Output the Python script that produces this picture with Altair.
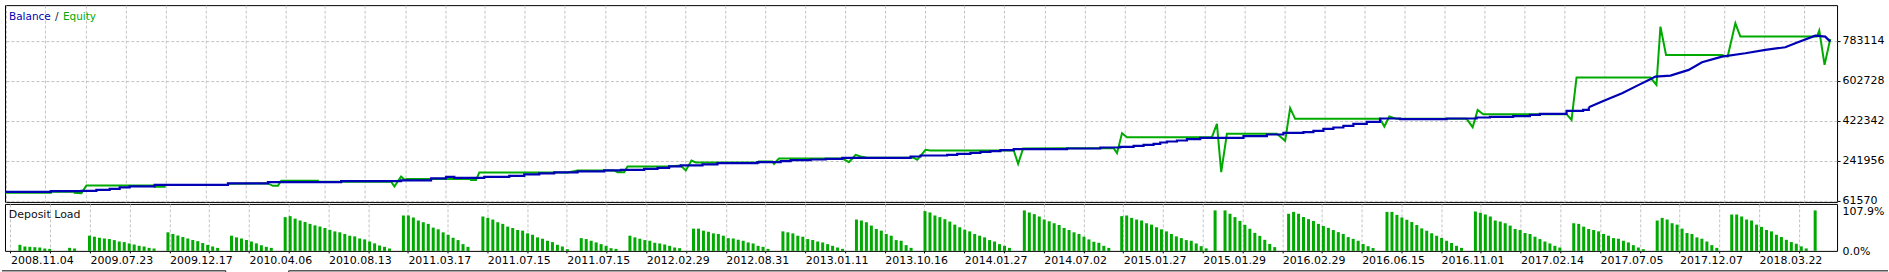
import json
import altair as alt
import pandas as pd

FONT = "DejaVu Sans"
BLUE = "#0000b4"
GREEN = "#00aa00"
GRID = "#c3c3c3"

# ---------------- data ----------------
x_labels = ["2008.11.04", "2009.07.23", "2009.12.17", "2010.04.06", "2010.08.13",
            "2011.03.17", "2011.07.15", "2011.07.15", "2012.02.29", "2012.08.31",
            "2013.01.11", "2013.10.16", "2014.01.27", "2014.07.02", "2015.01.27",
            "2015.01.29", "2016.02.29", "2016.06.15", "2016.11.01", "2017.02.14",
            "2017.07.05", "2017.12.07", "2018.03.22"]
y_ticks = [61570, 241956, 422342, 602728, 783114]
load_ticks = [0.0, 107.9]

# (trade index, balance) - stepwise part
balance_steps = [
    (0, 100000), (9.06, 103660), (15.2, 105163), (18.2, 109672), (20.86, 114182),
    (22.86, 120195), (24.86, 124704), (29.86, 132220), (44.54, 138233), (52.54, 144246),
    (67.2, 148756), (79.2, 151760), (85.2, 160781), (88.2, 168297), (89.86, 163788),
    (95.86, 168297), (100.86, 172807), (103.86, 178820), (106.86, 183329), (109.86, 187839),
    (114.54, 192348), (119.86, 196858), (123.2, 199864), (127.86, 204374), (130.54, 208884),
    (132.86, 214896), (135.2, 219406), (139.54, 223916), (142.54, 229928), (150.54, 234438),
    (155.2, 238948), (157.2, 243457), (161.2, 246464), (164.2, 249470), (167.54, 253980),
    (181.2, 259992), (183.2, 264502), (188.54, 267508), (190.54, 272018), (193.2, 276528),
    (195.2, 281037), (197.2, 284044), (199.2, 288553), (201.86, 293063), (212.54, 296069),
    (219.2, 300579), (223.2, 303585), (225.86, 308095), (227.86, 312604), (229.86, 317114),
    (231.2, 323127), (232.54, 327636), (234.54, 332146), (236.54, 338159), (239.2, 344000),
    (247.86, 351688), (252.54, 359204), (255.86, 366720), (259.86, 369726), (261.86, 375739),
    (263.86, 384758), (265.86, 390771), (267.86, 398287), (269.86, 407306), (272.54, 416325),
    (275.2, 431357), (279.2, 428351), (288.54, 431357), (294.54, 435867), (297.2, 438873),
    (301.86, 441880), (305.2, 447892), (307.2, 452402), (312.54, 465931), (315.86, 470440),
    (317, 482466),
]
# (trade index, balance) - final smooth part
balance_tail = [
    (317, 482466), (319.66, 508020), (323.66, 545600), (327, 583180), (329, 605728),
    (330.34, 620760), (333.34, 625270), (337, 650824), (339.66, 685398), (343.66, 710952),
    (348.34, 725984), (352.34, 741016), (356.34, 753042), (358.34, 771080), (362.34, 805654),
    (364.34, 801144), (365.34, 778596),
]

# (trade index, equity)
equity_points = [
    (0, 96144), (9.06, 96144), (9.06, 100653), (13.86, 100653), (13.86, 96144),
    (15.2, 94640), (16.2, 129214), (29.86, 129214), (29.86, 123201), (31.86, 123201),
    (31.86, 130717), (44.54, 130717), (44.54, 136730), (52.54, 138233), (53.54, 127711),
    (54.54, 127711), (55.2, 150259), (62.54, 150259), (62.54, 145749), (77.2, 145749),
    (77.86, 124704), (79.2, 169800), (79.86, 154768), (80.4, 157775), (93.2, 157775),
    (93.2, 153265), (94.2, 153265), (94.86, 187839), (112.54, 187839), (114.54, 196858),
    (121.86, 196858), (122.54, 189342), (123.86, 189342), (124.54, 214896), (132.54, 214896),
    (135.2, 219406), (136.2, 196858), (137.34, 241954), (138.2, 232935), (150.86, 232935),
    (150.86, 237444), (153.54, 237444), (153.86, 226922), (154.86, 250973), (167.54, 250973),
    (168.86, 234438), (170.2, 267508), (171.2, 259992), (172.54, 253980), (181.86, 253980),
    (182.54, 244960), (184.2, 290056), (185.2, 287050), (201.86, 287050), (202.74, 226922),
    (203.74, 296069), (212.54, 297572), (221.86, 297572), (222.54, 275024), (223.54, 365216),
    (224.54, 347178), (241.54, 347178), (242.54, 407306), (243.4, 189342), (244.54, 362210),
    (254.54, 362210), (256.2, 330643), (257.2, 477956), (258.2, 429854), (275.2, 429854),
    (276.06, 395280), (277.06, 440376), (278.54, 429854), (292.54, 429854), (293.74, 392274),
    (294.74, 470440), (295.86, 450899), (312.54, 450899), (313.54, 425344), (314.54, 616251),
    (329.34, 616251), (330.54, 583180), (331.34, 846240), (332.46, 718468), (343.66, 718468),
    (344.8, 710952), (346.34, 861272), (347.34, 801144), (362.66, 801144), (363.14, 828202),
    (364.2, 673372), (365.34, 790622),
]

# deposit load bars: first trade index of each run and the loads (%) of consecutive trades
bar_group_start = [1.9, 11.9, 15.9, 31.7, 44.5, 55.3, 79.1, 95.1, 114.9, 124.7, 137.5,
                   155.5, 170.3, 184.1, 204.1, 223.7, 242.5, 244.5, 257.3, 277.1, 294.9,
                   314.7, 331.5, 346.5, 363.3]
bar_group_loads = [
    [16.2, 11.7, 10.8, 9.9, 9, 6.3, 5.4],
    [8.1, 6.3],
    [40.5, 37.8, 35, 33, 31.5, 28.8, 25, 23.4, 19.8, 17, 13.5, 11.7, 8, 6.3],
    [49.5, 45, 41, 37, 33, 29, 26, 21, 16, 11.7, 8],
    [40.5, 36, 33, 29, 25, 20, 15, 10.8, 8],
    [90, 92.6, 86, 81, 77, 72, 68, 65, 61, 56, 52, 49.5, 45, 40.5, 38.7, 33, 30.6, 25, 20, 14.4, 10.8, 6.3],
    [94.4, 94.4, 89, 81, 76.4, 72, 62, 57.5, 49.4, 43, 35, 28.8, 18, 10.8],
    [91.7, 88, 83.6, 76.4, 72, 64.7, 61, 55.7, 54, 46.7, 43, 36, 32.4, 27, 23.4, 16.2, 11.7, 4.5],
    [34, 31.5, 27, 22.5, 18, 13.5, 7.2, 5.4],
    [40.5, 36, 32.4, 28.8, 27, 21.6, 19.8, 17, 13.5, 9, 7.2],
    [59.3, 59.3, 54, 51, 46.7, 45, 40.5, 34, 33, 29.7, 27, 22.5, 19.8, 13.5, 10.8, 5.4],
    [52, 49.5, 46.7, 40.5, 37.8, 31.5, 29, 25, 22.5, 18, 13.5, 9, 5.4],
    [83.6, 81, 76.4, 67.4, 58.4, 54, 45, 40.5, 28.8, 27, 15.3, 8.1],
    [106, 102.5, 94.4, 90, 84.5, 78.2, 70, 63, 56.6, 52, 45, 40.5, 36, 28.8, 25, 18, 13.5, 8],
    [107.9, 102.5, 98, 91.7, 83.6, 79, 73.7, 69, 61, 55.7, 49.5, 45, 37.8, 30.6, 24.3, 21.6, 13.5, 8],
    [92.6, 94.4, 88, 83.6, 81, 73.7, 70, 63, 57.5, 52, 45, 38.7, 34, 28.8, 27, 19.8, 12.5, 6.7],
    [107.9],
    [107.9, 99, 90, 80, 69.5, 59, 48, 40, 29.5, 18.5, 10],
    [99, 104, 99, 90.4, 84.6, 79.8, 72, 66.2, 61.4, 55.5, 50, 45.2, 36.8, 32, 27, 18.4, 12.5, 7.6],
    [104, 104, 96, 89, 83, 77, 69, 60, 53.7, 47, 40.3, 34.5, 27, 21, 13.5, 8],
    [105, 101.6, 97, 91.7, 81, 78.2, 73.7, 67.4, 58.4, 55.7, 47.6, 45, 37.8, 31.5, 25, 19.8, 13.5, 9],
    [73.7, 72, 64.7, 58.4, 55.7, 52, 45, 40.5, 34, 32.4, 27, 22.5, 15.3, 9, 4.5],
    [81, 88, 83.6, 73.7, 70, 59.3, 47.6, 45, 36, 32.4, 25, 15.3, 8],
    [97, 97, 91.7, 83.6, 81, 70, 64, 55.7, 52, 43, 37, 29.5, 23.5, 19, 12, 6.5],
    [107.9],
]

# ---------------- tables ----------------
def table(points):
    df = pd.DataFrame(points, columns=["u", "v"])
    df["i"] = range(len(df))
    return df


bal_a = table(balance_steps)
bal_b = table(balance_tail)
eq = table(equity_points)
rows = []
for s, loads in zip(bar_group_start, bar_group_loads):
    for k, h in enumerate(loads):
        rows.append({"u": round(s + k, 2), "load": h})
bars = pd.DataFrame(rows)

# ---------------- layout ----------------
W = 1834
TOP_H = 197
BOT_H = 47
X_DOMAIN = [-0.1, 366.7]
grid_vals = list(range(0, 361, 8))

LBL = dict(labelFont=FONT, labelFontSize=11, labelColor="black")
GRD = dict(gridColor=GRID, gridDash=[3, 2], gridWidth=1, tickColor="black")

xscale = alt.Scale(domain=X_DOMAIN, nice=False, zero=False)
yscale = alt.Scale(domain=[54806, 943207], nice=False, zero=False)
lscale = alt.Scale(domain=[0, 125.2], nice=False, zero=False)

x_top_axis = alt.Axis(values=grid_vals, labels=False, ticks=False, domain=False,
                      grid=True, title=None, **GRD)
y_top_axis = alt.Axis(orient="right", values=y_ticks, format="d", grid=True,
                      ticks=True, tickSize=3, domain=False, title=None,
                      labelPadding=2, labelOverlap=False, **LBL, **GRD)

label_expr = ("datum.value % 16 == 0 ? " + json.dumps(x_labels)
              + "[datum.value / 16] : ''")
x_bot_axis = alt.Axis(values=grid_vals, labelExpr=label_expr, grid=True, ticks=True,
                      tickSize=2, domain=False, title=None, labelAlign="left",
                      labelBaseline="top", labelPadding=2, labelFlush=False,
                      labelOverlap=False, labelBound=False, **LBL, **GRD)
y_bot_axis = alt.Axis(orient="right", values=load_ticks,
                      labelExpr="format(datum.value, '.1f') + '%'", grid=False,
                      ticks=False, domain=False, title=None, labelPadding=5,
                      labelOverlap=False, labelOffset=1, **LBL)

one = alt.Data(values=[{}])


def line(df, color, width, interp):
    return alt.Chart(df).mark_line(color=color, strokeWidth=width,
                                   interpolate=interp).encode(
        x=alt.X("u:Q", scale=xscale, axis=x_top_axis),
        y=alt.Y("v:Q", scale=yscale, axis=y_top_axis),
        order="i:Q",
    )


def word(txt, color, x, y, size=11):
    return alt.Chart(one).mark_text(text=txt, font=FONT, fontSize=size, color=color,
                                    align="left", baseline="alphabetic").encode(
        x=alt.value(x), y=alt.value(y))


top_guard = alt.Chart(one).mark_rule(color="white", strokeWidth=1).encode(
    x=alt.value(-3), x2=alt.value(200), y=alt.value(-4))

top = alt.layer(
    line(eq, GREEN, 2, "linear"),
    line(bal_a, BLUE, 2.2, "step-after"),
    line(bal_b, BLUE, 2.2, "linear"),
    word("Balance", BLUE, 4.0, 14.5, 10.5),
    word("/", "#202040", 50.0, 14.5, 10.5),
    word("Equity", GREEN, 58.0, 14.5, 10.5),
    top_guard,
).properties(width=W, height=TOP_H)

bar_chart = alt.Chart(bars).mark_bar(size=3, color=GREEN).encode(
    x=alt.X("u:Q", scale=xscale, axis=x_bot_axis),
    y=alt.Y("load:Q", scale=lscale, axis=y_bot_axis),
)

clip_rect = alt.Chart(one).mark_rect(color="white").encode(
    x=alt.value(W + 1.5), x2=alt.value(W + 50), y=alt.value(0.6), y2=alt.value(3))


def hrule(x1, x2, y):
    return alt.Chart(one).mark_rule(color="black", strokeWidth=1).encode(
        x=alt.value(x1), x2=alt.value(x2), y=alt.value(y))


def vrule(x, y1, y2):
    return alt.Chart(one).mark_rule(color="black", strokeWidth=1).encode(
        x=alt.value(x), y=alt.value(y1), y2=alt.value(y2))


bottom = alt.layer(
    bar_chart,
    word("Deposit Load", "#101010", 3.8, 14.5),
    clip_rect,
    hrule(-3, 221, 67), vrule(221, 67, 68),
    hrule(284, 1885, 67), vrule(284, 67, 68),
).properties(width=W, height=BOT_H)

chart = alt.vconcat(top, bottom, spacing=2, bounds="flush").properties(
    padding={"left": 0, "top": 0, "right": 0, "bottom": 0},
    background="white",
).configure_view(
    stroke="black", strokeWidth=1
).configure_axis(
    labelFont=FONT, labelFontSize=11, labelColor="black",
    gridColor=GRID, gridDash=[3, 2], gridWidth=1, tickColor="black"
)

chart.save("out.html", embed_options={"renderer": "svg", "actions": False})
